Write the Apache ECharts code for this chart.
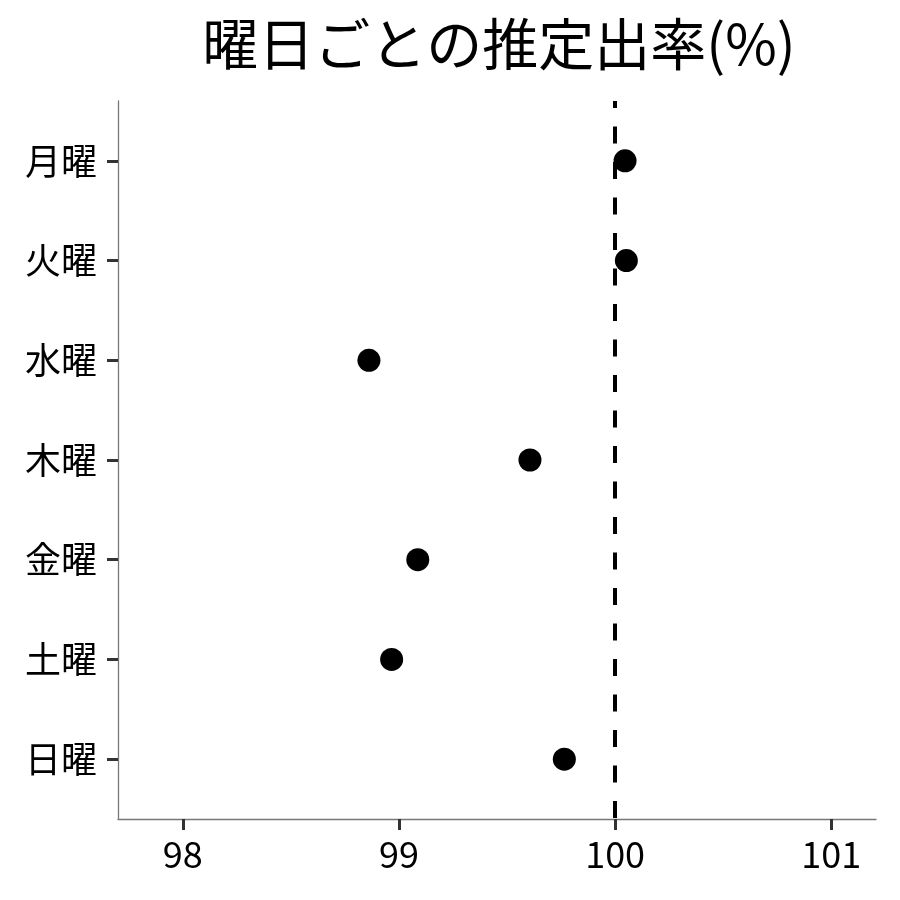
<!DOCTYPE html>
<html>
<head>
<meta charset="utf-8">
<script src="https://cdn.jsdelivr.net/npm/echarts@6/dist/echarts.min.js"></script>
<style>html,body{margin:0;padding:0;background:#fff}#c{width:900px;height:900px}</style>
</head>
<body>
<div id="c"></div>
<script>
const titleText = '曜日ごとの推定出率(%)';
const categories = ['月曜', '火曜', '水曜', '木曜', '金曜', '土曜', '日曜'];
const values = [100.046, 100.052, 98.861, 99.606, 99.087, 98.966, 99.765];
const xTicks = [98, 99, 100, 101];
const refValue = 100;

const FONT = '"Noto Sans CJK JP", "Noto Sans", sans-serif';
const chart = echarts.init(document.getElementById('c'));
chart.setOption({
  animation: false,
  backgroundColor: '#fff',
  title: {
    text: titleText,
    left: 494,
    textAlign: 'center',
    top: 11,
    textStyle: { fontFamily: FONT, fontSize: 56, fontWeight: 'normal', color: '#000' }
  },
  grid: { left: 118, right: 24, top: 101, bottom: 81, containLabel: false },
  xAxis: {
    type: 'value',
    min: 97.70,
    max: 101.207,
    splitLine: { show: false },
    axisLine: { show: true, onZero: false, lineStyle: { color: '#777', width: 1.3 } },
    axisTick: { show: true, customValues: xTicks, length: 11, lineStyle: { color: '#333', width: 3 } },
    axisLabel: { customValues: xTicks, margin: 17, fontFamily: FONT, fontSize: 36, color: '#000' }
  },
  yAxis: {
    type: 'value',
    inverse: true,
    min: -0.6,
    max: categories.length - 1 + 0.6,
    splitLine: { show: false },
    axisLine: { show: true, onZero: false, lineStyle: { color: '#777', width: 1.3 } },
    axisTick: { show: true, customValues: categories.map((c, i) => i), length: 11, lineStyle: { color: '#333', width: 3 } },
    axisLabel: {
      customValues: categories.map((c, i) => i),
      formatter: v => categories[Math.round(v)] || '',
      margin: 21, fontFamily: FONT, fontSize: 36, color: '#000'
    }
  },
  series: [{
    type: 'scatter',
    symbol: 'circle',
    symbolSize: 23,
    itemStyle: { color: '#000', opacity: 1 },
    data: values.map((v, i) => [v, i]),
    markLine: {
      silent: true,
      symbol: ['none', 'none'],
      label: { show: false },
      lineStyle: { color: '#000', width: 4, type: [17, 18.5], dashOffset: 10 },
      data: [{ xAxis: refValue }]
    },
    z: 3
  }]
});
</script>
</body>
</html>
